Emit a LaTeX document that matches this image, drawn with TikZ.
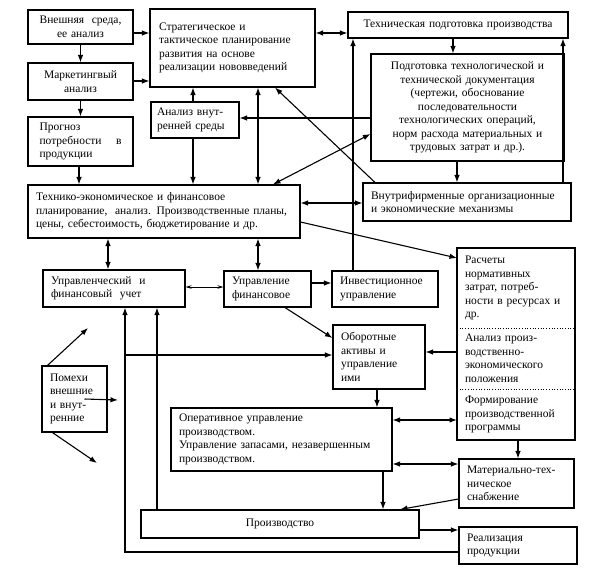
\documentclass[tikz,border=0pt]{standalone}
\usepackage{fontspec}
\setmainfont{Liberation Serif}
\usepackage{tikz}
\usetikzlibrary{arrows.meta,calc,positioning}
\tikzset{>={Latex[length=7.5pt,width=5.5pt]}}
\tikzset{
  box/.style={draw, line width=1.1pt, inner xsep=8pt, inner ysep=2pt, align=left},
  cbox/.style={box, align=center},
  part/.style={inner xsep=8pt, inner ysep=2pt, outer sep=0pt, align=left, text width=102pt, anchor=north west},
  thinarr/.style={<->, line width=0.7pt, >={Stealth[length=6pt,width=3.5pt]}}
}

\begin{document}
\begin{tikzpicture}[x=1pt, y=-1pt, line width=1.1pt, font=\fontsize{11.5pt}{13.5pt}\selectfont]
\useasboundingbox (0,0) rectangle (601,576);

% left column
\node[cbox, text width=89pt, minimum height=34pt] (vneshn) at (80.5,27) {Внешняя\ \ среда,\\ее анализ};
\node[cbox, text width=89pt, minimum height=37pt] (market) at (80.5,81.5) {Маркетингвый\\анализ};
\node[box, text width=82pt, minimum width=105pt, minimum height=49pt] (prognoz) at (80.5,141.5) {Прогноз\\потребности\hfill в\\продукции};

% planning
\node[box, text width=147pt, minimum width=165pt, minimum height=78pt] (strateg) at (232.5,48) {Стратегическое и\\тактическое планирование\\развития на основе\\реализации нововведений};
\node[box, text width=76pt, inner xsep=6pt, minimum height=36pt] (analizvn) at (195,120) {Анализ внут-\\ренней среды};
\node[cbox, text width=204pt, minimum height=26pt] (techpod) at (458,25) {Техническая подготовка производства};
\node[cbox, text width=177pt, minimum height=107pt] (podgot) at (467.5,107.5) {Подготовка технологической и\\технической документация\\(чертежи, обоснование\\последовательности\\технологических операций,\\норм расхода материальных и\\трудовых затрат и др.).};
\node[box, text width=256pt, minimum height=53pt] (tehnek) at (164,211.5) {Технико-экономическое и финансовое\\планирование,\ \ анализ. Производственные планы,\\цены, себестоимость, бюджетирование и др.};
\node[box, text width=192pt, minimum height=38pt] (vnutrif) at (467,202) {Внутрифирменные организационные\\и экономические механизмы};

% management
\node[box, text width=126pt, minimum height=37pt] (upruchet) at (114,288.5) {Управленческий\ \ и\\финансовый\ \ учет};
\node[box, text width=71pt, minimum height=36pt] (uprfin) at (267.5,289) {Управление\\финансовое};
\node[box, text width=90pt, minimum height=36pt] (invest) at (385,289) {Инвестиционное\\управление};
\node[part, minimum height=80pt] (raschet) at (457,248) {Расчеты\\нормативных\\затрат, потреб-\\ности в ресурсах и\\др.};
\node[part, minimum height=61pt, below=0pt of raschet] (analizpol) {Анализ произ-\\водственно-\\экономического\\положения};
\node[part, minimum height=51pt, below=0pt of analizpol] (formir) {Формирование\\производственной\\программы};
\draw (raschet.north west) rectangle (formir.south east);
\foreach \n in {raschet,analizpol}
  \draw[dotted, line width=0.7pt] (\n.south west) -- (\n.south east);
\node[box, text width=76pt, minimum height=64pt] (oborot) at (379,357) {Оборотные\\активы и\\управление\\ими};
\node[box, text width=205pt, minimum height=63pt] (operat) at (281.5,439.5) {Оперативное управление\\производством.\\Управление запасами, незавершенным\\производством.};
\node[box, text width=99pt, minimum height=49pt] (mater) at (516.5,483.5) {Материально-тех-\\ническое\\снабжение};
\node[cbox, text width=262pt, minimum height=28pt] (proizv) at (280,524) {Производство};
\node[box, text width=102pt, minimum height=37pt] (realiz) at (518,545.5) {Реализация\\продукции};
\node[box, text width=49pt, minimum height=66pt] (pomehi) at (74.5,399) {Помехи\\внешние\\и внут-\\ренние};

% free ends
\coordinate (pomA) at (88,328);
\coordinate (pomB) at (118,400);
\coordinate (pomC) at (97,463);
\coordinate (otvod) at (125,355);

% connectors
\draw[->] (vneshn) -- (market);
\draw[->] (market) -- (prognoz);
\draw[->] (prognoz.south -| 79,0) -- (tehnek.north -| 79,0);
\draw[->] (vneshn.east |- 0,33) -- (strateg.west |- 0,33);
\draw[->] (market.east |- 0,81) -- (strateg.west |- 0,81);
\draw[->] (analizvn.north -| 193,0) -- (strateg.south -| 193,0);
\draw[->] (analizvn.south -| 193,0) -- (tehnek.north -| 193,0);
\draw[<->] (strateg.south -| 258,0) -- (tehnek.north -| 258,0);
\draw[->] (podgot.west |- 0,118) -- (analizvn.east |- 0,118);
\draw[->] (vnutrif.north -| 375,0) -- (strateg.south -| 275,0);
\draw[<->] (tehnek.north -| 273,0) -- (podgot.west |- 0,134);
\draw[<->] (strateg.east |- 0,33) -- (techpod.west |- 0,33);
\draw[->] (techpod.south -| 453,0) -- (podgot.north -| 453,0);
\draw[->] (podgot.south -| 457,0) -- (vnutrif.north -| 457,0);
\draw[->] (invest.north -| 353,0) -- (techpod.south -| 353,0);
\draw[->] (vnutrif.north -| 563,0) -- (techpod.south -| 563,0);
\draw[<->] (tehnek.east |- 0,203) -- (vnutrif.west |- 0,203);
\draw[->] (tehnek.east |- 0,222) -- (raschet.west |- 0,258);
\draw[<->] (tehnek.south -| 108,0) -- (upruchet.north -| 108,0);
\draw[<->] (tehnek.south -| 258,0) -- (uprfin.north -| 258,0);
\draw[thinarr] (upruchet.east |- 0,287) -- (uprfin.west |- 0,287);
\draw[->] (uprfin.east |- 0,283) -- (invest.west |- 0,283);
\draw[->] (uprfin.south -| 285,0) -- (oborot.west |- 0,338);
\draw[->] (realiz.west |- 0,552) -| (upruchet.south -| 125,0);
\draw[->] (proizv.north -| 157,0) -- (upruchet.south -| 157,0);
\draw[->] (otvod) -- (oborot.west |- otvod);
\draw[->] (analizpol.west |- 0,352) -- (oborot.east |- 0,352);
\draw[->] (oborot.south -| 377,0) -- (operat.north -| 377,0);
\draw[<->] (operat.east |- 0,420) -- (formir.west |- 0,420);
\draw[->] (formir.south -| 518,0) -- (mater.north -| 518,0);
\draw[<->] (operat.east |- 0,464) -- (mater.west |- 0,464);
\draw[->] (operat.south -| 383,0) -- (proizv.north -| 383,0);
\draw[->] (mater.west |- 0,499) -- (proizv.north -| 400,0);
\draw[->] (proizv.east |- 0,530) -- (realiz.west |- 0,530);

% disturbances
\draw[->] ([xshift=6pt]pomehi.north west) -- (pomA);
\draw[->] ([xshift=10pt]pomehi.center) -- (pomB);
\draw[->] ([xshift=11pt]pomehi.south west) -- (pomC);
\end{tikzpicture}
\end{document}
